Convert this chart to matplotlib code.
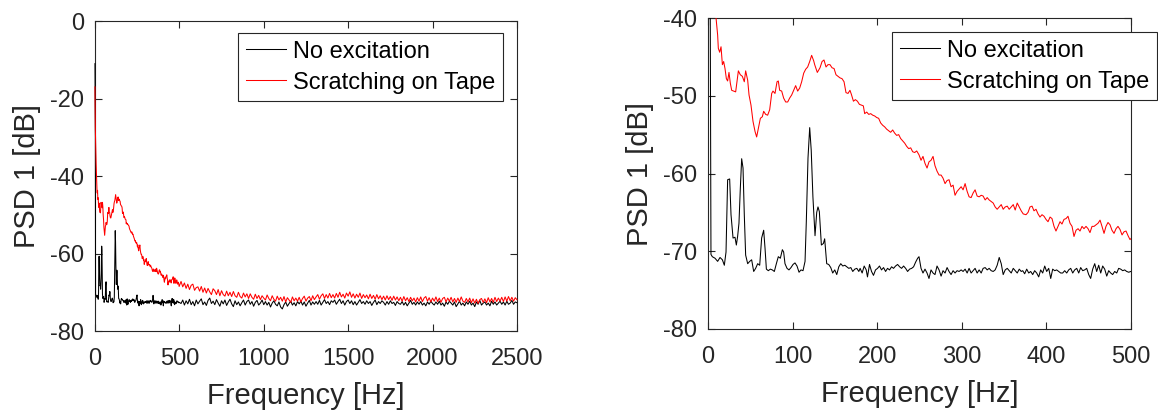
import numpy as np
import matplotlib
matplotlib.use('Agg')
from matplotlib import pyplot as plt

plt.rcParams['font.family'] = ['Liberation Sans', 'DejaVu Sans']
plt.rcParams['axes.unicode_minus'] = False   # MATLAB style hyphen minus

# ---- data ----
# low frequency part (0-500 Hz)
f_black_lo = [0, 2.4, 3.5, 5.1, 8.3, 11.4, 14.2, 17.0, 19.3, 21.3, 23.2, 25.6, 27.2, 29.6, 31.9,
              33.5, 35.0, 36.6, 38.2, 39.8, 41.4, 42.9, 44.5, 46.9, 49.3, 51.6, 54.0, 56.3, 58.7,
              61.1, 63.4, 65.8, 67.4, 69.0, 71.3, 73.7, 76.0, 78.4, 80.8, 83.1, 85.5, 87.9, 89.4,
              91.0, 93.4, 95.7, 98.1, 100.5, 102.8, 105.2, 107.6, 109.9, 112.3, 114.7, 116.2, 118.2,
              120.2, 122.0, 124.0, 126.5, 128.5, 130.0, 131.6, 134.0, 136.4, 137.9, 140.3, 142.7,
              145.1, 147.4, 149.8, 152.2, 154.6, 156.9, 159.3, 161.7, 164.0, 166.4, 168.8, 171.1,
              173.5, 175.9, 178.3, 179.8, 182.2, 184.6, 187.0, 188.5, 190.9, 193.3, 195.6, 198.0,
              200.4, 202.7, 205.1, 207.5, 209.9, 212.2, 214.6, 217.0, 219.3, 221.7, 224.1, 226.5,
              228.8, 231.2, 233.6, 235.9, 238.3, 240.7, 243.0, 245.4, 247.8, 249.4, 251.8, 254.1,
              256.5, 258.9, 261.2, 263.6, 266.0, 268.3, 270.7, 273.1, 275.5, 277.8, 280.2, 282.6,
              284.9, 287.3, 289.7, 292.0, 294.4, 296.8, 299.2, 301.5, 303.9, 306.3, 308.6, 311.0,
              313.4, 315.7, 318.1, 320.5, 322.9, 325.2, 327.6, 330.0, 332.3, 334.7, 337.1, 339.4,
              341.8, 344.2, 346.6, 348.9, 351.3, 353.7, 356.0, 358.4, 360.8, 363.1, 365.5, 367.9,
              370.2, 372.0, 374.3, 376.7, 379.1, 381.4, 383.8, 386.1, 388.5, 390.9, 393.2, 395.6,
              398.0, 400.3, 402.7, 405.1, 407.4, 409.8, 412.1, 414.5, 416.9, 419.2, 421.6, 424.0,
              426.3, 428.7, 431.1, 433.4, 435.8, 438.2, 440.5, 442.9, 445.2, 447.6, 450.0, 452.3,
              454.7, 457.1, 459.4, 461.8, 464.2, 466.5, 468.9, 471.3, 473.6, 476.0, 478.3, 480.7,
              483.1, 485.4, 487.8, 490.2, 492.5, 494.9, 497.3, 499.7]
psd_black_lo = [-11.0, -30.0, -70.4, -70.7, -70.9, -71.3, -70.8, -71.1, -71.8, -70.1, -60.8, -60.7,
                -65.3, -68.3, -68.2, -69.2, -68.1, -66.4, -61.9, -58.1, -59.3, -65.3, -70.5, -71.6,
                -71.3, -71.1, -72.6, -72.2, -71.6, -71.8, -68.3, -67.3, -69.6, -72.3, -72.5, -72.3,
                -72.4, -72.6, -71.6, -70.7, -70.9, -69.8, -70.1, -71.6, -72.2, -72.4, -72.1, -71.7,
                -71.5, -71.9, -72.7, -72.4, -72.5, -71.3, -66.2, -58.0, -54.1, -57.0, -63.0, -68.0,
                -65.0, -64.3, -64.9, -69.2, -69.0, -68.4, -71.6, -71.7, -72.1, -72.8, -72.4, -73.0,
                -72.0, -71.6, -71.9, -71.8, -72.0, -72.2, -72.1, -72.6, -72.3, -72.2, -72.6, -72.2,
                -72.8, -71.9, -72.4, -73.3, -71.7, -72.6, -73.1, -72.4, -72.2, -71.9, -72.4, -72.1,
                -72.6, -72.2, -72.4, -72.0, -72.2, -71.9, -71.7, -72.0, -72.2, -71.9, -72.2, -72.6,
                -72.3, -72.2, -72.0, -71.4, -70.9, -70.7, -72.2, -72.8, -72.3, -72.8, -73.5, -72.4,
                -72.8, -73.0, -71.9, -72.4, -73.2, -72.5, -72.8, -72.1, -72.6, -73.0, -72.5, -72.8,
                -72.5, -72.6, -72.4, -72.6, -72.3, -72.8, -72.2, -72.8, -72.5, -72.2, -72.8, -72.4,
                -72.8, -72.2, -72.1, -72.4, -72.2, -72.5, -72.6, -72.4, -71.8, -70.8, -71.6, -73.0,
                -72.4, -72.2, -72.5, -72.8, -72.2, -72.5, -72.8, -72.3, -72.6, -72.5, -72.9, -72.3,
                -72.8, -72.6, -73.0, -72.5, -72.8, -73.3, -72.4, -72.8, -71.9, -72.6, -72.2, -73.5,
                -72.3, -72.5, -72.4, -72.6, -72.8, -72.8, -72.5, -72.8, -72.4, -72.2, -72.8, -72.4,
                -72.2, -72.8, -72.1, -72.5, -72.4, -72.2, -73.0, -73.5, -72.3, -71.6, -72.6, -71.8,
                -72.8, -71.9, -72.3, -73.2, -72.5, -72.8, -73.0, -72.6, -72.8, -72.2, -72.3, -72.5,
                -72.4, -72.6, -72.7, -72.6]

f_red_lo = [0, 2.4, 4.8, 7.1, 9.5, 11.4, 12.2, 13.8, 15.4, 17.0, 18.5, 20.1, 21.7, 23.2, 24.8,
            26.4, 28.0, 30.3, 32.7, 34.3, 35.9, 38.2, 40.6, 42.9, 44.5, 46.9, 48.5, 50.8, 53.2,
            55.6, 57.5, 59.5, 61.9, 64.2, 65.8, 68.2, 70.5, 72.9, 75.3, 76.8, 79.2, 81.6, 83.1,
            84.7, 87.1, 89.4, 91.8, 94.2, 96.5, 98.9, 101.3, 103.6, 106.0, 108.4, 110.7, 113.1,
            115.4, 117.8, 120.2, 122.5, 124.9, 126.1, 129.2, 132.4, 134.8, 137.1, 139.5, 141.8,
            144.2, 146.6, 149.0, 151.3, 153.7, 156.0, 158.4, 160.8, 163.1, 165.5, 167.8, 169.4,
            171.9, 174.2, 176.6, 178.9, 181.3, 183.6, 185.2, 187.6, 190.0, 192.3, 194.7, 197.0,
            199.4, 201.7, 204.1, 206.5, 208.8, 211.2, 213.6, 215.9, 218.3, 220.6, 223.0, 225.4,
            227.7, 230.1, 232.5, 234.8, 237.2, 239.6, 241.9, 244.3, 246.7, 249.4, 251.8, 254.1,
            256.5, 258.9, 261.2, 263.6, 266.0, 268.3, 270.7, 273.1, 275.5, 277.8, 280.2, 282.6,
            284.9, 287.3, 289.7, 292.0, 294.4, 296.8, 299.2, 301.5, 303.9, 306.3, 308.6, 311.0,
            313.4, 315.7, 318.1, 320.5, 322.9, 325.2, 327.6, 330.0, 332.3, 334.7, 337.1, 339.4,
            341.8, 344.2, 346.6, 348.9, 351.3, 353.7, 356.0, 358.4, 360.8, 363.1, 365.5, 367.9,
            370.2, 372.6, 375.9, 378.3, 380.6, 383.0, 385.3, 387.7, 390.1, 392.4, 394.8, 397.2,
            399.5, 401.9, 404.3, 406.6, 409.0, 411.3, 413.7, 416.1, 418.4, 420.8, 423.2, 425.5,
            427.9, 430.3, 432.6, 435.0, 437.4, 439.7, 442.1, 444.4, 446.8, 449.2, 451.5, 453.9,
            456.3, 458.6, 461.0, 463.4, 465.7, 468.1, 470.4, 472.8, 475.2, 477.5, 479.9, 482.3,
            484.6, 487.0, 489.4, 491.7, 494.1, 496.5, 498.8]
psd_red_lo = [-17.0, -28.0, -33.0, -37.0, -40.0, -42.2, -43.9, -44.4, -43.7, -46.0, -45.6, -46.5,
              -47.8, -48.1, -47.0, -48.4, -49.3, -49.4, -49.5, -48.2, -46.8, -47.3, -47.5, -48.2,
              -46.8, -48.0, -49.9, -51.2, -53.3, -54.6, -55.3, -54.2, -52.9, -52.7, -52.0, -52.4,
              -52.5, -51.8, -49.7, -49.4, -49.7, -48.2, -48.1, -49.3, -49.4, -50.3, -50.8, -50.8,
              -50.3, -49.9, -49.3, -48.7, -49.4, -49.0, -48.2, -47.1, -46.6, -46.3, -45.6, -44.8,
              -45.5, -46.0, -47.0, -46.4, -45.6, -45.4, -46.3, -46.0, -46.0, -46.4, -46.5, -47.3,
              -47.5, -47.7, -47.8, -48.2, -49.6, -49.7, -49.3, -49.8, -50.7, -50.5, -50.7, -51.1,
              -51.2, -51.3, -52.3, -52.1, -52.4, -52.3, -52.5, -52.6, -52.8, -52.9, -53.5, -53.8,
              -54.0, -54.3, -54.5, -54.7, -54.4, -54.8, -55.1, -55.0, -55.5, -55.8, -56.1, -56.5,
              -56.8, -56.7, -57.2, -57.3, -57.1, -57.6, -58.3, -57.8, -58.7, -59.3, -58.5, -58.3,
              -57.8, -59.0, -59.7, -60.2, -60.2, -60.6, -61.3, -60.9, -60.8, -61.7, -61.5, -62.8,
              -62.3, -62.0, -61.7, -62.1, -61.3, -62.3, -63.0, -63.1, -62.5, -62.1, -62.9, -63.0,
              -62.8, -62.9, -63.4, -63.1, -63.4, -63.6, -63.8, -64.3, -64.6, -64.3, -64.0, -64.6,
              -64.3, -64.2, -64.6, -64.3, -64.0, -64.7, -63.8, -64.3, -64.8, -65.2, -65.3, -65.0,
              -64.3, -64.2, -64.8, -64.6, -65.2, -65.6, -65.3, -65.5, -65.9, -66.2, -65.6, -65.8,
              -66.8, -67.4, -66.8, -66.2, -66.5, -65.9, -65.8, -65.5, -66.4, -66.8, -68.1, -67.3,
              -67.1, -67.4, -66.8, -67.1, -66.8, -67.1, -67.6, -66.8, -66.8, -66.6, -66.4, -66.0,
              -66.8, -67.7, -66.8, -66.3, -66.6, -67.3, -67.7, -67.1, -66.8, -67.2, -67.9, -67.5,
              -67.4, -68.0, -68.5]

# high frequency part (510-2500 Hz, every 10 Hz)
f_hi = np.arange(510, 2501, 10)
psd_black_hi = [
    -72.9, -72.0, -73.3, -72.2, -73.0, -71.8, -73.2, -72.4, -73.5, -72.0,
    -73.0, -72.3, -71.7, -73.2, -72.5, -73.4, -72.1, -71.5, -72.9, -72.3,
    -73.2, -71.9, -72.8, -73.6, -72.2, -73.0, -72.0, -73.4, -72.5, -71.8,
    -73.0, -73.7, -72.2, -73.2, -72.5, -73.5, -72.7, -72.0, -73.3, -72.4,
    -72.0, -73.1, -72.4, -73.6, -72.6, -72.1, -73.3, -72.8, -72.0, -73.2,
    -72.4, -73.3, -72.6, -73.8, -72.8, -72.2, -73.1, -73.5, -72.5, -73.8,
    -74.3, -73.2, -72.5, -73.6, -72.9, -72.3, -73.3, -72.7, -73.5, -72.4,
    -73.0, -72.3, -73.3, -72.5, -73.6, -72.8, -72.1, -73.3, -72.5, -73.1,
    -72.4, -73.1, -72.1, -73.3, -72.6, -71.9, -72.9, -72.4, -73.2, -72.2,
    -72.6, -72.0, -73.1, -72.4, -71.8, -72.9, -72.2, -73.3, -72.4, -72.0,
    -72.9, -72.2, -73.2, -72.4, -73.3, -72.6, -71.9, -72.9, -72.4, -73.1,
    -72.2, -72.9, -72.4, -73.4, -72.6, -72.0, -73.2, -72.4, -72.9, -72.2,
    -72.6, -73.3, -72.4, -73.1, -72.2, -72.9, -72.6, -73.4, -72.4, -72.9,
    -73.1, -72.4, -73.3, -72.6, -73.5, -72.8, -72.1, -73.1, -72.6, -73.3,
    -72.5, -73.1, -72.4, -73.3, -72.8, -73.5, -72.5, -73.1, -72.3, -72.9,
    -73.3, -72.5, -73.1, -72.3, -73.3, -72.8, -73.6, -72.5, -73.1, -72.3,
    -72.8, -73.3, -72.5, -73.7, -73.0, -72.3, -73.3, -72.8, -73.5, -72.5,
    -73.1, -72.3, -73.3, -72.8, -73.7, -72.5, -73.1, -72.1, -73.3, -72.8,
    -72.5, -73.3, -72.8, -73.5, -72.3, -73.1, -72.5, -73.3, -72.8, -72.3,
    -73.1, -72.5, -73.3, -72.3, -73.1, -72.8, -72.1, -73.1, -72.5, -72.7]
psd_red_hi = [
    -67.2, -68.6, -67.6, -69.0, -67.9, -69.3, -68.2, -67.9, -69.5, -68.8,
    -68.6, -69.7, -68.5, -70.0, -68.9, -70.2, -69.0, -69.9, -70.6, -69.1,
    -69.6, -70.6, -69.3, -70.9, -69.6, -70.6, -71.0, -69.7, -70.9, -70.0,
    -71.1, -69.8, -70.9, -71.3, -70.0, -71.1, -71.5, -70.2, -71.2, -70.4,
    -71.6, -70.4, -71.3, -71.8, -70.5, -71.6, -70.8, -71.9, -70.9, -71.5,
    -72.0, -70.7, -71.6, -72.2, -70.9, -71.8, -72.3, -71.0, -72.0, -71.3,
    -72.3, -71.1, -72.5, -71.4, -72.0, -72.6, -71.2, -72.2, -71.5, -72.3,
    -71.3, -72.5, -71.6, -71.0, -72.3, -71.5, -71.1, -72.2, -70.9, -71.9,
    -71.2, -70.6, -71.8, -70.9, -70.4, -71.6, -70.6, -71.5, -70.3, -71.4,
    -70.6, -71.5, -70.3, -71.3, -70.0, -71.2, -70.5, -71.5, -70.2, -71.0,
    -69.9, -71.3, -70.4, -71.5, -70.5, -71.3, -70.2, -71.6, -70.6, -71.4,
    -70.7, -71.7, -70.5, -71.6, -70.8, -71.8, -70.6, -71.7, -70.9, -71.9,
    -71.0, -72.0, -70.9, -71.9, -71.1, -72.1, -71.0, -72.0, -71.2, -72.2,
    -71.3, -72.3, -71.1, -72.2, -71.4, -72.4, -71.3, -72.2, -71.5, -72.5,
    -71.4, -72.3, -71.2, -72.4, -71.5, -71.1, -72.3, -71.4, -72.5, -71.5,
    -72.3, -71.2, -72.4, -71.5, -72.6, -71.6, -71.3, -72.5, -71.5, -72.3,
    -71.3, -72.5, -71.6, -72.6, -71.5, -72.4, -71.2, -72.3, -72.6, -71.6,
    -72.5, -71.5, -72.7, -71.7, -72.8, -71.8, -72.9, -71.9, -71.6, -72.6,
    -71.7, -72.7, -71.4, -72.5, -71.6, -72.6, -71.3, -72.4, -71.5, -72.3,
    -71.3, -72.4, -71.2, -72.3, -71.1, -72.2, -71.3, -72.3, -71.4, -71.9]

f_black = np.concatenate([f_black_lo, f_hi])
psd_black = np.concatenate([psd_black_lo, psd_black_hi])
f_red = np.concatenate([f_red_lo, f_hi])
psd_red = np.concatenate([psd_red_lo, psd_red_hi])

labels = ['No excitation', 'Scratching on Tape']

# ---- figure ----
fig = plt.figure(figsize=(11.58, 4.13), dpi=100)
ax1 = fig.add_axes([0.082, 0.1985, 0.3644, 0.7506])
ax2 = fig.add_axes([0.6114, 0.2034, 0.3653, 0.753])

tc = '#262626'
for ax, xlim, ylim, xt, yt, leg_anchor, clip in [
        (ax1, (0, 2500), (-80, 0), np.arange(0, 2501, 500), np.arange(-80, 1, 20), (0.967, 0.961), False),
        (ax2, (0, 500), (-80, -40), np.arange(0, 501, 100), np.arange(-80, -39, 10), (1.061, 0.955), True)]:
    # lines drawn over the spines, as in the original
    ax.plot(f_black, psd_black, color='k', lw=0.75, label=labels[0], zorder=3, clip_on=clip)
    ax.plot(f_red, psd_red, color='r', lw=0.75, label=labels[1], zorder=3, clip_on=clip)
    ax.set_xlim(*xlim)
    ax.set_ylim(*ylim)
    ax.set_xticks(xt)
    ax.set_yticks(yt)
    ax.tick_params(direction='in', top=True, right=True, length=5, width=0.8,
                   labelsize=17, colors=tc)
    ax.tick_params(axis='x', pad=12)
    ax.tick_params(axis='y', pad=8)
    for s in ax.spines.values():
        s.set_color(tc)
        s.set_linewidth(0.8)
    ax.set_xlabel('Frequency [Hz]', fontsize=21, color=tc, labelpad=9)
    ax.set_ylabel('PSD 1 [dB]', fontsize=21, color=tc, labelpad=6)
    leg = ax.legend(loc='upper right', bbox_to_anchor=leg_anchor, borderaxespad=0,
                    fontsize=17, fancybox=False, framealpha=1, edgecolor=tc,
                    handlelength=1.7, handletextpad=0.3, labelspacing=0.38, borderpad=0.32)
    leg.set_zorder(5)
    leg.get_frame().set_linewidth(0.8)

fig.savefig('out.png', dpi=100)
